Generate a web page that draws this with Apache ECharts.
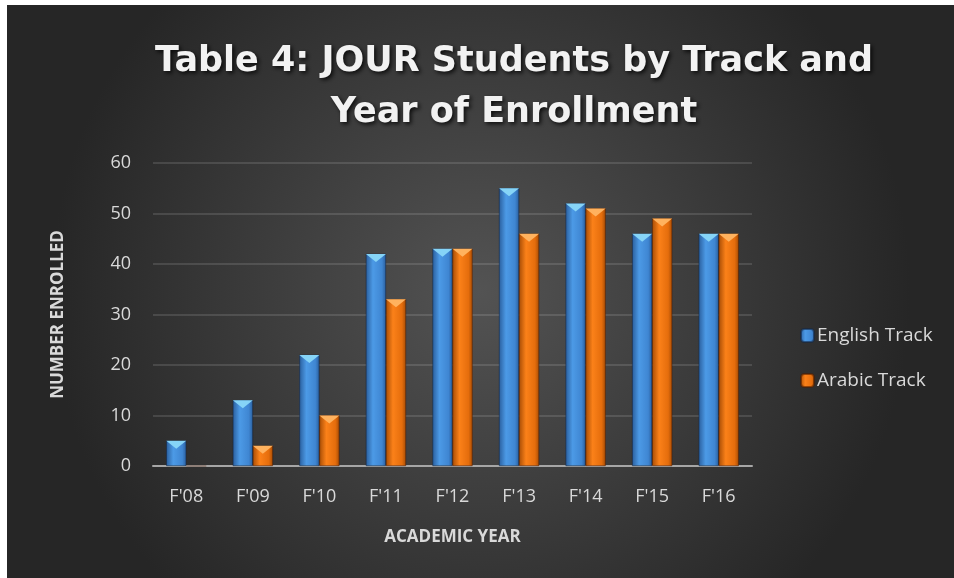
<!DOCTYPE html>
<html>
<head>
<meta charset="utf-8">
<script src="https://cdn.jsdelivr.net/npm/echarts@6/dist/echarts.min.js"></script>
<style>
  html, body { margin: 0; padding: 0; background: #fff; }
  #chart { position: absolute; left: 7px; top: 5px; width: 947px; height: 573px; }
</style>
</head>
<body>
<div id="chart"></div>
<script>
var years = ["F'08", "F'09", "F'10", "F'11", "F'12", "F'13", "F'14", "F'15", "F'16"];
var english = [5, 13, 22, 42, 43, 55, 52, 46, 46];
var arabic = [0, 4, 10, 33, 43, 46, 51, 49, 46];
var yTicks = [0, 60, 10];

var font = 'Open Sans';
var barW = 20;

function barFill(dark, mid, light) {
  return new echarts.graphic.LinearGradient(0, 0, 1, 0, [
    { offset: 0, color: dark },
    { offset: 0.35, color: light },
    { offset: 0.8, color: mid },
    { offset: 1, color: dark }
  ]);
}

function caps(arr) {
  return arr.map(function (v) {
    return v > 0 ? v : { value: v, symbolSize: [0, 0] };
  });
}

var chart = echarts.init(document.getElementById('chart'));
chart.setOption({
  backgroundColor: new echarts.graphic.RadialGradient(0.5, 0.5, 0.75, [
    { offset: 0, color: '#535353' },
    { offset: 1, color: '#262626' }
  ]),
  textStyle: { fontFamily: font },
  title: {
    text: 'Table 4: JOUR Students by Track and\nYear of Enrollment',
    left: 502,
    top: 26,
    textAlign: 'center',
    textStyle: {
      color: '#f2f2f2',
      fontSize: 35,
      fontWeight: 'bold',
      lineHeight: 51,
      fontFamily: 'DejaVu Sans',
      textShadowColor: 'rgba(0,0,0,0.8)',
      textShadowBlur: 4,
      textShadowOffsetX: 2,
      textShadowOffsetY: 2
    }
  },
  legend: {
    orient: 'vertical',
    left: 788,
    top: 316,
    itemWidth: 13,
    itemHeight: 13,
    itemGap: 26,
    data: ['English Track', 'Arabic Track'],
    textStyle: { color: '#d9d9d9', fontSize: 19, fontFamily: font, padding: [0, 0, 0, -2] }
  },
  grid: { left: 146, right: 202, top: 158, bottom: 112 },
  xAxis: {
    type: 'category',
    data: years,
    name: 'ACADEMIC YEAR',
    nameLocation: 'middle',
    nameGap: 63,
    nameTextStyle: { color: '#d9d9d9', fontSize: 17, fontWeight: 'bold' },
    axisLine: { lineStyle: { color: '#a6a6a6', width: 2 } },
    axisTick: { show: false },
    axisLabel: { color: '#d9d9d9', fontSize: 18, margin: 22 }
  },
  yAxis: {
    type: 'value',
    min: yTicks[0],
    max: yTicks[1],
    interval: yTicks[2],
    name: 'NUMBER ENROLLED',
    nameLocation: 'middle',
    nameGap: 86,
    nameTextStyle: { color: '#d9d9d9', fontSize: 17, fontWeight: 'bold' },
    axisLine: { show: false },
    axisTick: { show: false },
    axisLabel: { color: '#d9d9d9', fontSize: 18, margin: 22 },
    splitLine: { lineStyle: { color: 'rgba(255,255,255,0.12)', width: 2 } }
  },
  series: [
    {
      name: 'English Track',
      type: 'bar',
      data: english,
      barWidth: barW,
      barGap: '0%',
      itemStyle: {
        color: barFill('#2a5f9e', '#3f86d2', '#4c9ae6'),
        borderColor: 'rgba(20,40,70,0.6)',
        borderWidth: 0.5
      }
    },
    {
      name: 'Arabic Track',
      type: 'bar',
      data: arabic,
      barWidth: barW,
      barGap: '0%',
      itemStyle: {
        color: barFill('#a84d05', '#e56d0c', '#fb8119'),
        borderColor: 'rgba(80,30,0,0.6)',
        borderWidth: 0.5
      }
    },
    {
      name: 'English cap',
      type: 'pictorialBar',
      data: caps(english),
      symbol: 'path://M0,0 L10,0 L5,4 Z',
      symbolSize: [barW, 8],
      symbolPosition: 'end',
      symbolOffset: [-barW / 2, 0],
      itemStyle: { color: '#86d4f7' },
      z: 5,
      silent: true
    },
    {
      name: 'Arabic cap',
      type: 'pictorialBar',
      data: caps(arabic),
      symbol: 'path://M0,0 L10,0 L5,4 Z',
      symbolSize: [barW, 8],
      symbolPosition: 'end',
      symbolOffset: [barW / 2, 0],
      itemStyle: { color: '#ffb25e' },
      z: 5,
      silent: true
    }
  ]
});
</script>
</body>
</html>
